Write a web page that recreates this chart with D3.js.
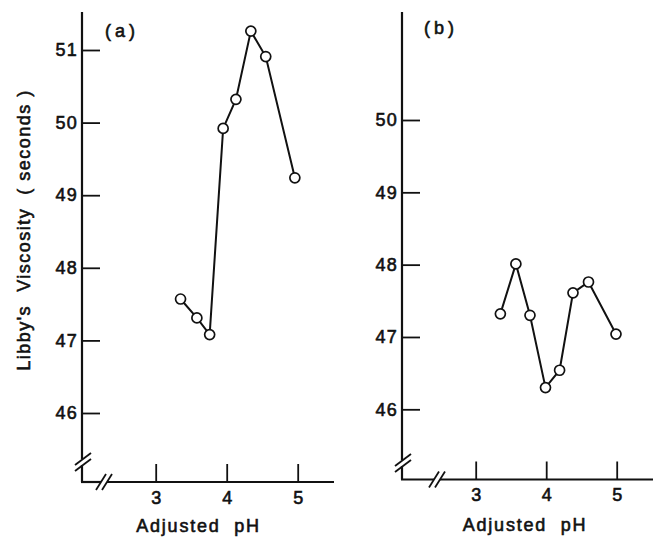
<!DOCTYPE html>
<html>
<head>
<meta charset="utf-8">
<script src="https://cdn.jsdelivr.net/npm/d3@7"></script>
<style>
  html, body { margin: 0; padding: 0; background: #fff; }
  svg { display: block; }
  text { font-family: "Liberation Sans", Arial, sans-serif; fill: #111; stroke: #111; stroke-width: 0.6px; }
</style>
</head>
<body>
<svg id="chart" width="662" height="538"></svg>
<script>
// ---- data ----
const xTickValues = [3, 4, 5];
const panelLabels = ["(a)", "(b)"];
const phA = [3.35, 3.58, 3.76, 3.95, 4.13, 4.34, 4.55, 4.96];
const viscA = [47.57, 47.31, 47.08, 49.92, 50.32, 51.26, 50.91, 49.24];
const yTicksA = [46, 47, 48, 49, 50, 51];
const phB = [3.35, 3.57, 3.77, 3.99, 4.19, 4.38, 4.60, 4.99];
const viscB = [47.32, 48.01, 47.30, 46.30, 46.54, 47.61, 47.76, 47.04];
const yTicksB = [46, 47, 48, 49, 50];
const xTitle = "Adjusted  pH";
const yTitle = "Libby's  Viscosity  ( seconds )";

// ---- layout ----
const panels = [
  { ph: phA, v: viscA, yTicks: yTicksA, label: panelLabels[0],
    axisX: 82, axisY: 482, top: 12, right: 334,
    xr: [155.7, 297.7], yd: [46, 51], yr: [413, 50],
    yBreak: 462, xBreak: 104, labelX: 105, labelY: 31, titleX: 198.5, titleY: 526 },
  { ph: phB, v: viscB, yTicks: yTicksB, label: panelLabels[1],
    axisX: 402, axisY: 479.5, top: 12, right: 653,
    xr: [475.7, 616.7], yd: [46, 50], yr: [409.3, 120],
    yBreak: 463, xBreak: 437, labelX: 424, labelY: 28, titleX: 525, titleY: 525 }
];

const svg = d3.select("#chart");
const ink = "#111";

panels.forEach(p => {
  const x = d3.scaleLinear().domain([3, 5]).range(p.xr);
  const y = d3.scaleLinear().domain(p.yd).range(p.yr);
  const g = svg.append("g");

  // y axis line with break
  g.append("line").attr("x1", p.axisX).attr("x2", p.axisX)
    .attr("y1", p.top).attr("y2", p.yBreak - 3)
    .attr("stroke", ink).attr("stroke-width", 2.2);
  g.append("line").attr("x1", p.axisX).attr("x2", p.axisX)
    .attr("y1", p.yBreak + 3).attr("y2", p.axisY)
    .attr("stroke", ink).attr("stroke-width", 2.2);
  [-3, 3].forEach(o => {
    g.append("line")
      .attr("x1", p.axisX - 7).attr("y1", p.yBreak + o + 6)
      .attr("x2", p.axisX + 9).attr("y2", p.yBreak + o - 6)
      .attr("stroke", ink).attr("stroke-width", 1.8);
  });

  // x axis line with break
  g.append("line").attr("x1", p.axisX - 1).attr("x2", p.xBreak - 3)
    .attr("y1", p.axisY).attr("y2", p.axisY)
    .attr("stroke", ink).attr("stroke-width", 2.2);
  g.append("line").attr("x1", p.xBreak + 3).attr("x2", p.right)
    .attr("y1", p.axisY).attr("y2", p.axisY)
    .attr("stroke", ink).attr("stroke-width", 2.2);
  [-3, 3].forEach(o => {
    g.append("line")
      .attr("x1", p.xBreak + o - 5).attr("y1", p.axisY + 8)
      .attr("x2", p.xBreak + o + 5).attr("y2", p.axisY - 8)
      .attr("stroke", ink).attr("stroke-width", 1.8);
  });

  // y axis ticks (inward) and labels
  const ya = g.append("g").attr("transform", `translate(${p.axisX},0)`)
    .call(d3.axisLeft(y).tickValues(p.yTicks).tickSize(-18).tickPadding(4).tickFormat(d3.format("d")));
  ya.select(".domain").remove();
  ya.selectAll(".tick line").attr("stroke", ink).attr("stroke-width", 1.8);
  ya.selectAll(".tick text").attr("font-size", 18).attr("letter-spacing", 1.2)
    .style("font-family", "Liberation Sans, Arial, sans-serif").attr("fill", ink);

  // x axis ticks (inward) and labels
  const xa = g.append("g").attr("transform", `translate(0,${p.axisY})`)
    .call(d3.axisBottom(x).tickValues(xTickValues).tickSize(-18).tickPadding(9).tickFormat(d3.format("d")));
  xa.select(".domain").remove();
  xa.selectAll(".tick line").attr("stroke", ink).attr("stroke-width", 1.8);
  xa.selectAll(".tick text").attr("font-size", 18)
    .style("font-family", "Liberation Sans, Arial, sans-serif").attr("fill", ink);

  // data line
  const pts = p.ph.map((d, i) => [d, p.v[i]]);
  g.append("path").datum(pts)
    .attr("d", d3.line().x(d => x(d[0])).y(d => y(d[1])))
    .attr("fill", "none").attr("stroke", ink).attr("stroke-width", 2);
  g.selectAll("circle").data(pts).join("circle")
    .attr("cx", d => x(d[0])).attr("cy", d => y(d[1])).attr("r", 5)
    .attr("fill", "#fff").attr("stroke", ink).attr("stroke-width", 1.7);

  // panel label
  g.append("text").attr("x", p.labelX).attr("y", p.labelY).attr("dy", "0.35em")
    .attr("font-size", 18).attr("letter-spacing", 4)
    .text(p.label);

  // x title
  g.append("text").attr("x", p.titleX).attr("y", p.titleY).attr("dy", "0.35em")
    .attr("text-anchor", "middle").attr("font-size", 18).attr("letter-spacing", 1.8)
    .style("white-space", "pre").text(xTitle);
});

// y title (left panel only)
svg.append("text")
  .attr("transform", "translate(24,230) rotate(-90)")
  .attr("text-anchor", "middle").attr("dy", "0.35em")
  .attr("font-size", 18).attr("letter-spacing", 1.5)
  .style("white-space", "pre").text(yTitle);
</script>
</body>
</html>
